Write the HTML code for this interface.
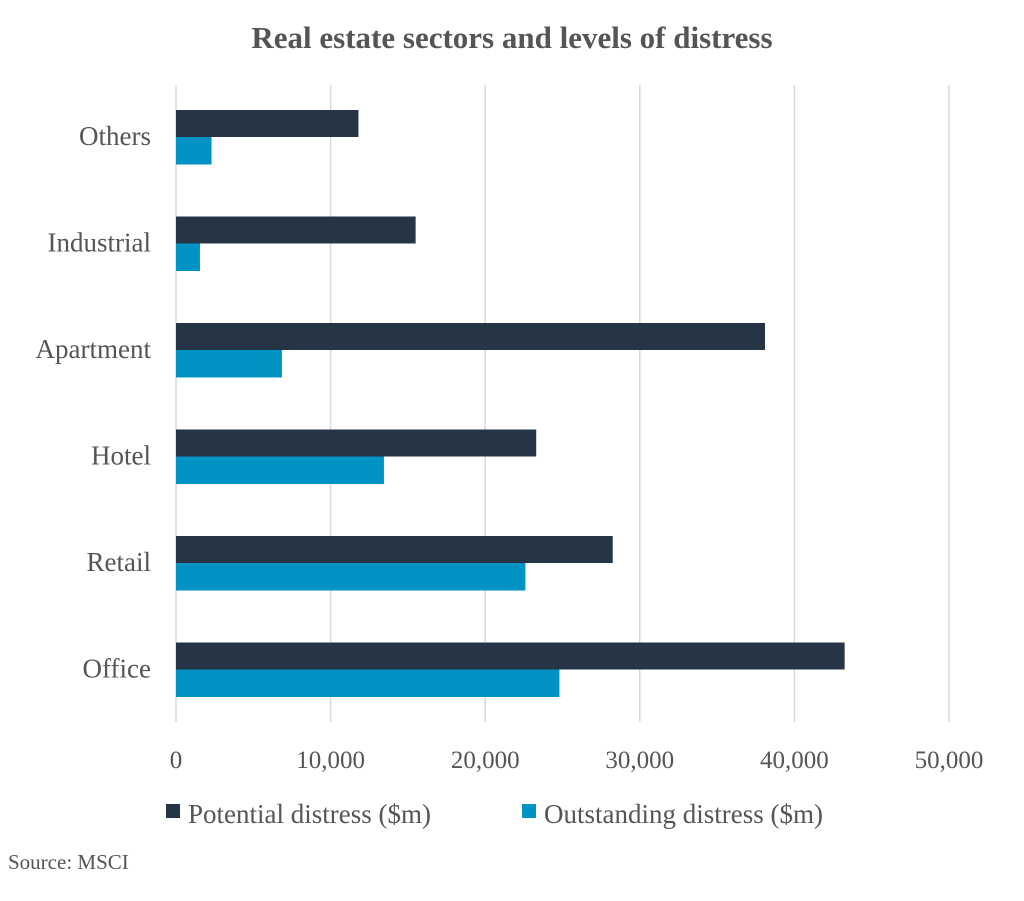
<!DOCTYPE html>
<html><head><meta charset="utf-8"><style>
body{margin:0;background:#fff;}
svg text{font-family:"Liberation Serif",serif;fill:#555;}
</style></head><body>
<svg width="1024" height="896">
<text x="512" y="48" text-anchor="middle" font-size="31" font-weight="bold">Real estate sectors and levels of distress</text>
<g id="grid"></g><g id="bars"></g><g id="labels"></g>
<g>
<rect x="166" y="804" width="14" height="14" fill="#263545"/>
<text x="188" y="823" font-size="27">Potential distress ($m)</text>
<rect x="522" y="804" width="14" height="14" fill="#0093c4"/>
<text x="544" y="823" font-size="27">Outstanding distress ($m)</text>
</g>
<text x="8" y="869" font-size="21">Source: MSCI</text>
</svg>
<script>
const categories=["Others","Industrial","Apartment","Hotel","Retail","Office"];
const potential=[11800,15500,38100,23300,28250,43250];
const outstanding=[2300,1550,6850,13450,22600,24800];
const ticks=[0,10000,20000,30000,40000,50000];
const tickLabels=["0","10,000","20,000","30,000","40,000","50,000"];
const NS="http://www.w3.org/2000/svg";
const x0=176,pxPer=(949-176)/50000;
const xs=v=>x0+v*pxPer;
const ys=i=>110+i*106.5;
function mk(t,a,p){const e=document.createElementNS(NS,t);for(const k in a)e.setAttribute(k,a[k]);document.getElementById(p).appendChild(e);return e;}
ticks.forEach((t,i)=>{
 const l=mk("line",{x1:xs(t),x2:xs(t),y1:85,y2:722,stroke:"#d9d9d9","stroke-width":1.5},"grid");
 
 
 const tx=mk("text",{x:xs(t),y:768,"text-anchor":"middle","font-size":25},"labels");
 tx.textContent=tickLabels[i];
 
 
});
categories.forEach((c,i)=>{
 const y=ys(i);
 const b1=mk("rect",{x:x0,y:y,width:xs(potential[i])-x0,height:27,fill:"#263545"},"bars");
 
 
 const b2=mk("rect",{x:x0,y:y+27,width:xs(outstanding[i])-x0,height:27.5,fill:"#0093c4"},"bars");
 
 
 const t=mk("text",{x:151,y:y+35,"text-anchor":"end","font-size":27},"labels");
 t.textContent=c;
 
 
});
</script>
</body></html>
